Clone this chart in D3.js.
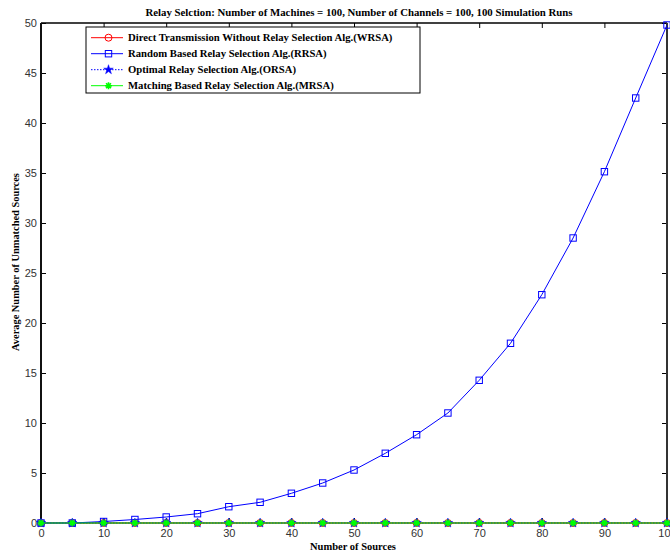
<!DOCTYPE html>
<html><head><meta charset="utf-8">
<script src="https://cdn.jsdelivr.net/npm/d3@7"></script>
<style>body{margin:0;background:#fff}svg{display:block}</style>
</head><body><div id="chart"></div>
<script>
const sources = [0,5,10,15,20,25,30,35,40,45,50,55,60,65,70,75,80,85,90,95,100];
const wrsa = [0,0,0,0,0,0,0,0,0,0,0,0,0,0,0,0,0,0,0,0,0];
const rrsa = [0,0,0.15,0.35,0.6,0.93,1.63,2.07,2.97,4.0,5.3,6.97,8.83,11.0,14.27,17.97,22.83,28.5,35.13,42.5,49.8];
const orsa = [0,0,0,0,0,0,0,0,0,0,0,0,0,0,0,0,0,0,0,0,0];
const mrsa = [0,0,0,0,0,0,0,0,0,0,0,0,0,0,0,0,0,0,0,0,0];
const xTicks = [0,10,20,30,40,50,60,70,80,90,100];
const yTicks = [0,5,10,15,20,25,30,35,40,45,50];
const titleText = "Relay Selction: Number of Machines = 100, Number of Channels = 100, 100 Simulation Runs";
const xLabel = "Number of Sources";
const yLabel = "Average Number of Unmatched Sources";
const legendNames = ["Direct Transmission Without Relay Selection Alg.(WRSA)","Random Based Relay Selection Alg.(RRSA)","Optimal Relay Selection Alg.(ORSA)","Matching Based Relay Selection Alg.(MRSA)"];

const W=670,H=554;
const m={l:41,r:3,t:23,b:31};
const svg=d3.select("#chart").append("svg").attr("width",W).attr("height",H);
const x=d3.scaleLinear().domain([0,100]).range([m.l,W-m.r]);
const y=d3.scaleLinear().domain([0,50]).range([H-m.b,m.t]);
const serif="'Liberation Serif','Times New Roman',serif";
const sans="'Liberation Sans',Arial,sans-serif";

const gx=svg.append("g").attr("transform",`translate(0,${y(0)})`)
  .call(d3.axisBottom(x).tickValues(xTicks).tickSize(-5).tickPadding(8).tickFormat(d3.format("d")));
gx.select(".domain").remove();
gx.selectAll("text").attr("font-family",sans).attr("font-size",11).attr("fill","#333").attr("dy","0.5em");
const gxt=svg.append("g").attr("transform",`translate(0,${y(50)})`)
  .call(d3.axisTop(x).tickValues(xTicks).tickSize(-5).tickFormat(""));
gxt.select(".domain").remove();
const gy=svg.append("g").attr("transform",`translate(${x(0)},0)`)
  .call(d3.axisLeft(y).tickValues(yTicks).tickSize(-5).tickPadding(4).tickFormat(d3.format("d")));
gy.select(".domain").remove();
gy.selectAll("text").attr("font-family",sans).attr("font-size",11).attr("fill","#333");
const gyr=svg.append("g").attr("transform",`translate(${x(100)},0)`)
  .call(d3.axisRight(y).tickValues(yTicks).tickSize(-5).tickFormat(""));
gyr.select(".domain").remove();
svg.selectAll(".tick line").attr("stroke","#000");

svg.append("line").attr("x1",x(0)).attr("x2",x(100)).attr("y1",y(50)).attr("y2",y(50)).attr("stroke","#000").attr("stroke-width",1.5);
svg.append("line").attr("x1",x(0)).attr("x2",x(100)).attr("y1",y(0)).attr("y2",y(0)).attr("stroke","#777").attr("stroke-width",1.5);
svg.append("line").attr("x1",x(0)).attr("x2",x(0)).attr("y1",y(0)).attr("y2",y(50)).attr("stroke","#111").attr("stroke-width",2);
svg.append("line").attr("x1",x(100)).attr("x2",x(100)).attr("y1",y(0)).attr("y2",y(50)).attr("stroke","#333").attr("stroke-width",2);

const line=d3.line().x((d,i)=>x(sources[i])).y(d=>y(d));
const series=[
 {name:legendNames[0],data:wrsa,color:"#ff0000",dash:null,marker:"circle"},
 {name:legendNames[1],data:rrsa,color:"#0000ff",dash:null,marker:"square"},
 {name:legendNames[2],data:orsa,color:"#0000ff",dash:"1.5,1.5",marker:"star"},
 {name:legendNames[3],data:mrsa,color:"#00ff00",dash:null,marker:"asterisk"}
];
function drawMarker(g,type,cx,cy,color){
  if(type==="circle") g.append("circle").attr("cx",cx).attr("cy",cy).attr("r",3.5).attr("fill","none").attr("stroke",color).attr("stroke-width",1);
  else if(type==="square") g.append("rect").attr("x",cx-3.2).attr("y",cy-3.2).attr("width",6.4).attr("height",6.4).attr("fill","none").attr("stroke",color).attr("stroke-width",1);
  else if(type==="star") g.append("path").attr("transform",`translate(${cx},${cy})`).attr("d",d3.symbol(d3.symbolStar,28)()).attr("fill",color).attr("stroke",color).attr("stroke-width",0.5);
  else if(type==="asterisk"){
    const r=3.5;
    const p=`M${cx-r},${cy}L${cx+r},${cy}M${cx},${cy-r}L${cx},${cy+r}M${cx-r*0.7},${cy-r*0.7}L${cx+r*0.7},${cy+r*0.7}M${cx-r*0.7},${cy+r*0.7}L${cx+r*0.7},${cy-r*0.7}`;
    g.append("path").attr("d",p).attr("stroke",color).attr("stroke-width",1.6).attr("fill","none");
  }
}
series.forEach(s=>{
  const g=svg.append("g");
  g.append("path").datum(s.data).attr("d",line).attr("fill","none").attr("stroke",s.color).attr("stroke-width",1).attr("stroke-dasharray",s.dash);
  s.data.forEach((v,i)=>drawMarker(g,s.marker,x(sources[i]),y(v),s.color));
});

const lg=svg.append("g");
lg.append("rect").attr("x",86).attr("y",27).attr("width",334).attr("height",66).attr("fill","#fff").attr("stroke","#000").attr("stroke-width",1);
series.forEach((s,i)=>{
  const ly=37.7+i*16;
  lg.append("line").attr("x1",91).attr("x2",123).attr("y1",ly).attr("y2",ly).attr("stroke",s.color).attr("stroke-width",1).attr("stroke-dasharray",s.dash);
  drawMarker(lg,s.marker,108.5,ly,s.color);
  lg.append("text").attr("x",128).attr("y",ly).attr("dy","0.35em").attr("font-family",serif).attr("font-weight","bold").attr("font-size",10.7).text(s.name);
});

svg.append("text").attr("x",359).attr("y",12).attr("dy","0.35em").attr("text-anchor","middle").attr("font-family",serif).attr("font-weight","bold").attr("font-size",10.8).text(titleText);
svg.append("text").attr("x",353).attr("y",546).attr("dy","0.35em").attr("text-anchor","middle").attr("font-family",serif).attr("font-weight","bold").attr("font-size",10.5).text(xLabel);
svg.append("text").attr("transform",`translate(15,262) rotate(-90)`).attr("dy","0.35em").attr("text-anchor","middle").attr("font-family",serif).attr("font-weight","bold").attr("font-size",10.4).text(yLabel);
</script></body></html>
